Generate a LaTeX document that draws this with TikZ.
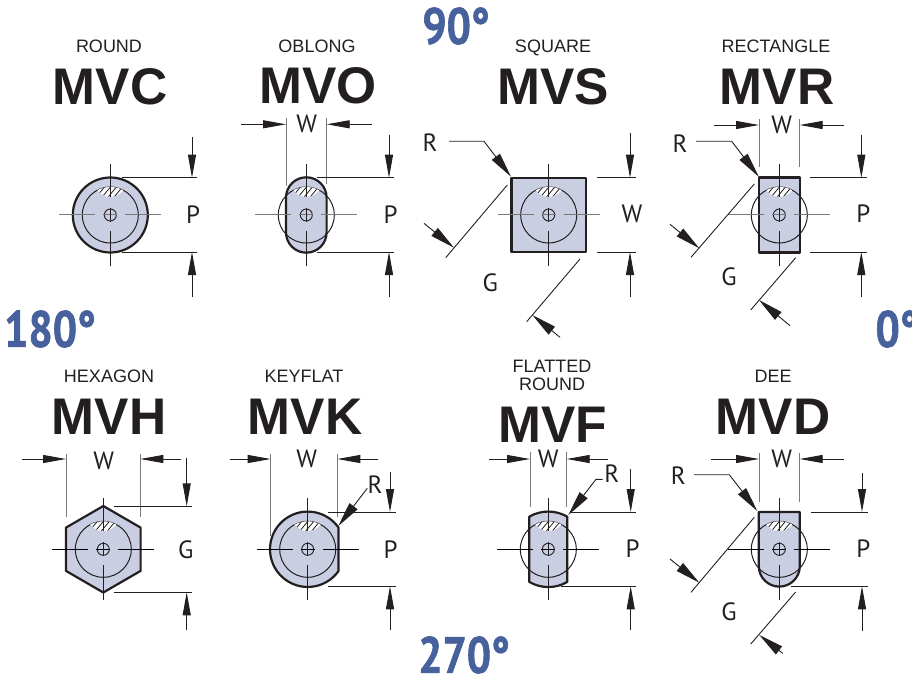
\documentclass[tikz,border=0pt]{standalone}
\usepackage{fontspec}
\setmainfont{Liberation Sans}
\newfontfamily\dimfont{PT Sans}
\newfontfamily\anglefont[FakeStretch=0.84,BoldFeatures={FakeBold=1.2}]{PT Sans}
\usetikzlibrary{arrows.meta, calc}
\definecolor{my-fill}{HTML}{C9CEE3}
\definecolor{my-blue}{HTML}{47619C}
\definecolor{my-gray}{HTML}{7A7A7A}
\definecolor{my-ink}{HTML}{231F20}
\tikzset{
    my-kind/.style={
        font=\fontsize{18}{18}\selectfont, text=my-ink, align=center, inner sep=0pt
    },
    my-title/.style={
        font=\fontsize{51.5}{51.5}\selectfont\bfseries, text=my-ink, inner sep=0pt
    },
    my-dim/.style={
        font=\fontsize{25}{25}\dimfont, text=my-ink, inner sep=0pt
    },
    my-angle/.style={
        font=\fontsize{51}{51}\anglefont\bfseries, text=my-blue, inner sep=0pt
    },
    my-body/.style={
        fill=my-fill, draw=my-ink, line width=2.2pt, line join=round
    },
    my-ext/.style={
        draw=my-ink, line width=.9pt
    },
    my-ext-gray/.style={
        draw=my-gray, line width=1pt
    },
    my-arrow/.style={
        draw=my-ink, line width=.9pt, -{Triangle[length=23pt,width=8pt]}
    },
    my-slant/.style={
        draw=my-ink, line width=.9pt, -{Triangle[length=25pt,width=10pt]}
    },
    my-hub/.pic={
        \draw[my-ink, line width=1pt] (0,0) circle[radius=28pt];
        \begin{scope}
            \path[clip] (-13,-24.8) arc[start angle=117.7, end angle=62.3, radius=28pt]
                .. controls (6,-16) and (-6,-16) .. cycle;
            \fill[white] (-14,-28) rectangle (14,-16);
            \draw[my-ink, line width=.8pt] (-15,-17) -- (-5,-29);
            \draw[my-ink, line width=.8pt] (-9,-17)  -- (1,-29);
            \draw[my-ink, line width=.8pt] (-3,-17)  -- (7,-29);
            \draw[my-ink, line width=.8pt] (3,-17)   -- (13,-29);
            \draw[my-ink, line width=.8pt] (9,-17)   -- (19,-29);
        \end{scope}
        \draw[my-ink, line width=.9pt] (0,0) circle[radius=6pt];
        \draw[line width=1pt] (-51,0) -- (-15,0);
        \draw[line width=1pt] (-7,0)  -- (7,0);
        \draw[line width=1pt] (15,0)  -- (51,0);
        \draw[my-ink, line width=1pt] (0,-51) -- (0,-18);
        \draw[my-ink, line width=1pt] (0,-7)  -- (0,7);
        \draw[my-ink, line width=1pt] (0,16)  -- (0,51);
    },
}

\begin{document}
\begin{tikzpicture}[x=1pt, y=-1pt]

        \useasboundingbox (0,0) rectangle (912,676);

        % ANGLES
        \node[my-angle] (A90)  at (456,26)  {90°};
        \node[my-angle] (A180) at (50,329)  {180°};
        \node[my-angle] (A0)   at (897,329) {0°};
        \node[my-angle] (A270) at (464,655) {270°};

        % MVC
        \coordinate (MVC) at (110.3,215);
        \node[my-kind]  (MVCKIND)  at (109,46)  {ROUND};
        \node[my-title] (MVCTITLE) at (110,87)  {MVC};
        \draw[my-body] (MVC) circle[radius=37.5pt];
        \pic[color=my-gray] at (MVC) {my-hub};
        \coordinate (MVCPTOP) at (192,177.7);
        \coordinate (MVCPBOT) at (192,252);
        \draw[my-ext] ($(MVCPTOP)+(-70,0)$) -- ($(MVCPTOP)+(5,0)$);
        \draw[my-ext] ($(MVCPBOT)+(-70,0)$) -- ($(MVCPBOT)+(5,0)$);
        \draw[my-arrow] ($(MVCPTOP)+(0,-41)$) -- (MVCPTOP);
        \draw[my-arrow] ($(MVCPBOT)+(0,45)$)  -- (MVCPBOT);
        \node[my-dim] (MVCP) at (193,215) {P};

        % MVO
        \coordinate (MVO) at (306.3,215);
        \node[my-kind]  (MVOKIND)  at (317,46) {OBLONG};
        \node[my-title] (MVOTITLE) at (318,86) {MVO};
        \draw[my-body] ($(MVO)+(-20.3,-17.4)$) arc[start angle=180, end angle=0, radius=20.3pt]
            -- ++(0,34.8) arc[start angle=0, end angle=-180, radius=20.3pt] -- cycle;
        \pic[color=my-gray] at (MVO) {my-hub};
        \coordinate (MVOWL) at (286,124.3);
        \coordinate (MVOWR) at (326.7,124.3);
        \draw[my-ext-gray] ($(MVOWL)+(0,-6)$) -- ($(MVOWL)+(0,62)$);
        \draw[my-ext-gray] ($(MVOWR)+(0,-6)$) -- ($(MVOWR)+(0,60)$);
        \draw[my-arrow] ($(MVOWL)+(-45,0)$) -- (MVOWL);
        \draw[my-arrow] ($(MVOWR)+(45,0)$)  -- (MVOWR);
        \node[my-dim] (MVOW) at (306.7,124) {W};
        \coordinate (MVOPTOP) at (389,177.7);
        \coordinate (MVOPBOT) at (389,252);
        \draw[my-ext] ($(MVOPTOP)+(-72,0)$) -- ($(MVOPTOP)+(5,0)$);
        \draw[my-ext] ($(MVOPBOT)+(-72,0)$) -- ($(MVOPBOT)+(5,0)$);
        \draw[my-arrow] ($(MVOPTOP)+(0,-43)$) -- (MVOPTOP);
        \draw[my-arrow] ($(MVOPBOT)+(0,45)$)  -- (MVOPBOT);
        \node[my-dim] (MVOP) at (390.7,215) {P};

        % MVS
        \coordinate (MVS) at (548.7,215);
        \node[my-kind]  (MVSKIND)  at (553,47.5) {SQUARE};
        \node[my-title] (MVSTITLE) at (553,87) {MVS};
        \draw[my-body] ($(MVS)+(-37.3,-37.3)$) rectangle ($(MVS)+(37.3,37.3)$);
        \pic[color=my-gray] at (MVS) {my-hub};
        \coordinate (MVSWTOP) at (630,177.7);
        \coordinate (MVSWBOT) at (630,252);
        \draw[my-ext] ($(MVSWTOP)+(-33,0)$) -- ($(MVSWTOP)+(6,0)$);
        \draw[my-ext] ($(MVSWBOT)+(-33,0)$) -- ($(MVSWBOT)+(6,0)$);
        \draw[my-arrow] ($(MVSWTOP)+(0,-45)$) -- (MVSWTOP);
        \draw[my-arrow] ($(MVSWBOT)+(0,45)$)  -- (MVSWBOT);
        \node[my-dim] (MVSW) at (632,214) {W};
        \node[my-dim] (MVSR) at (430,143) {R};
        \coordinate (MVSCORNER) at (511,176.7);
        \draw[my-slant] (449,141.3) -- (484,141.3) -- (MVSCORNER);
        \coordinate (MVSGA) at (454,247.7);
        \coordinate (MVSGB) at (532.3,315);
        \draw[my-ext] (507.3,185) -- (445.7,257.7);
        \draw[my-ext] (580,259)   -- (526.7,321.7);
        \draw[my-slant] (424,223.3) -- (MVSGA);
        \draw[my-slant] (560,337.3) -- (MVSGB);
        \node[my-dim] (MVSG) at (490.3,282.7) {G};

        % MVR
        \coordinate (MVR) at (779.3,215);
        \node[my-kind]  (MVRKIND)  at (776,46) {RECTANGLE};
        \node[my-title] (MVRTITLE) at (777,87) {MVR};
        \draw[my-body] ($(MVR)+(-20.6,-37.4)$) rectangle ($(MVR)+(20.6,37.4)$);
        \pic[color=my-gray] at (MVR) {my-hub};
        \coordinate (MVRWL) at (759,125);
        \coordinate (MVRWR) at (799.7,125);
        \draw[my-ext-gray] ($(MVRWL)+(0,-6)$) -- ($(MVRWL)+(0,42)$);
        \draw[my-ext-gray] ($(MVRWR)+(0,-6)$) -- ($(MVRWR)+(0,42)$);
        \draw[my-arrow] ($(MVRWL)+(-45,0)$) -- (MVRWL);
        \draw[my-arrow] ($(MVRWR)+(44,0)$)  -- (MVRWR);
        \node[my-dim] (MVRW) at (781.7,125) {W};
        \coordinate (MVRPTOP) at (861.3,177.7);
        \coordinate (MVRPBOT) at (861.3,252);
        \draw[my-ext] ($(MVRPTOP)+(-51,0)$) -- ($(MVRPTOP)+(6,0)$);
        \draw[my-ext] ($(MVRPBOT)+(-51,0)$) -- ($(MVRPBOT)+(6,0)$);
        \draw[my-arrow] ($(MVRPTOP)+(0,-43)$) -- (MVRPTOP);
        \draw[my-arrow] ($(MVRPBOT)+(0,45)$)  -- (MVRPBOT);
        \node[my-dim] (MVRP) at (863.3,214) {P};
        \node[my-dim] (MVRR) at (680,143.3) {R};
        \coordinate (MVRCORNER) at (758.7,176.7);
        \draw[my-slant] (696,141.3) -- (731.7,141.3) -- (MVRCORNER);
        \coordinate (MVRGA) at (699.3,248.3);
        \coordinate (MVRGB) at (759,300);
        \draw[my-ext] (754.3,184)   -- (691,257.3);
        \draw[my-ext] (795.7,257.7) -- (750.7,310);
        \draw[my-slant] (670,224.3)  -- (MVRGA);
        \draw[my-slant] (790,325.7)  -- (MVRGB);
        \node[my-dim] (MVRG) at (729,276.7) {G};

        % MVH
        \coordinate (MVH) at (103.3,549.3);
        \node[my-kind]  (MVHKIND)  at (109,376) {HEXAGON};
        \node[my-title] (MVHTITLE) at (109,417) {MVH};
        \draw[my-body] ($(MVH)+(0,-43.3)$) -- ++(37.3,21.6) -- ++(0,43.3) -- ++(-37.3,21.6)
            -- ++(-37.3,-21.6) -- ++(0,-43.3) -- cycle;
        \pic at (MVH) {my-hub};
        \coordinate (MVHWL) at (66,459);
        \coordinate (MVHWR) at (140.3,459);
        \draw[my-ext-gray] ($(MVHWL)+(0,-5)$) -- ($(MVHWL)+(0,58)$);
        \draw[my-ext-gray] ($(MVHWR)+(0,-5)$) -- ($(MVHWR)+(0,58)$);
        \draw[my-arrow] ($(MVHWL)+(-44,0)$) -- (MVHWL);
        \draw[my-arrow] ($(MVHWR)+(41,0)$)  -- (MVHWR);
        \node[my-dim] (MVHW) at (103.7,460.7) {W};
        \coordinate (MVHGTOP) at (186.7,506.3);
        \coordinate (MVHGBOT) at (186.7,592.3);
        \draw[my-ext] ($(MVHGTOP)+(-73,0)$) -- ($(MVHGTOP)+(5,0)$);
        \draw[my-ext] ($(MVHGBOT)+(-73,0)$) -- ($(MVHGBOT)+(5,0)$);
        \draw[my-arrow] ($(MVHGTOP)+(0,-48)$) -- (MVHGTOP);
        \draw[my-arrow] ($(MVHGBOT)+(0,38)$)  -- (MVHGBOT);
        \node[my-dim] (MVHG) at (185.7,550) {G};

        % MVK
        \coordinate (MVK) at (307.7,549.3);
        \node[my-kind]  (MVKKIND)  at (304,376) {KEYFLAT};
        \node[my-title] (MVKTITLE) at (305,417) {MVK};
        \draw[my-body] ($(MVK)+(30.7,-21.9)$) arc[start angle=35.5, end angle=324.5, radius=37.7pt] -- cycle;
        \pic at (MVK) {my-hub};
        \coordinate (MVKWL) at (270.7,459);
        \coordinate (MVKWR) at (337.3,459);
        \draw[my-ext-gray] ($(MVKWL)+(0,-5)$) -- ($(MVKWL)+(0,77)$);
        \draw[my-ext-gray] ($(MVKWR)+(0,-5)$) -- ($(MVKWR)+(0,58)$);
        \draw[my-arrow] ($(MVKWL)+(-41,0)$) -- (MVKWL);
        \draw[my-arrow] ($(MVKWR)+(41,0)$)  -- (MVKWR);
        \node[my-dim] (MVKW) at (306.7,459) {W};
        \coordinate (MVKPTOP) at (390,512);
        \coordinate (MVKPBOT) at (390,586.3);
        \draw[my-ext] ($(MVKPTOP)+(-62,0)$) -- ($(MVKPTOP)+(6,0)$);
        \draw[my-ext] ($(MVKPBOT)+(-62,0)$) -- ($(MVKPBOT)+(6,0)$);
        \draw[my-arrow] ($(MVKPTOP)+(0,-40)$) -- (MVKPTOP);
        \draw[my-arrow] ($(MVKPBOT)+(0,44)$)  -- (MVKPBOT);
        \node[my-dim] (MVKP) at (390.7,550) {P};
        \node[my-dim] (MVKR) at (375,485) {R};
        \coordinate (MVKCORNER) at (338.3,526);
        \draw[my-slant] (367.3,488.3) -- (MVKCORNER);

        % MVF
        \coordinate (MVF) at (548.3,549.3);
        \node[my-kind]  (MVFKIND)  at (552,375) {FLATTED\\ROUND};
        \node[my-title] (MVFTITLE) at (553,425) {MVF};
        \draw[my-body] ($(MVF)+(19,-32.6)$) arc[start angle=59.7, end angle=120.3, radius=37.7pt]
            -- ++(0,65.2) arc[start angle=239.7, end angle=300.3, radius=37.7pt] -- cycle;
        \pic at (MVF) {my-hub};
        \coordinate (MVFWL) at (530,459);
        \coordinate (MVFWR) at (566.7,459);
        \draw[my-ext-gray] ($(MVFWL)+(0,-7)$) -- ($(MVFWL)+(0,48)$);
        \draw[my-ext-gray] ($(MVFWR)+(0,-7)$) -- ($(MVFWR)+(0,48)$);
        \draw[my-arrow] ($(MVFWL)+(-41,0)$) -- (MVFWL);
        \draw[my-arrow] ($(MVFWR)+(41,0)$)  -- (MVFWR);
        \node[my-dim] (MVFW) at (548.3,459) {W};
        \coordinate (MVFPTOP) at (630.7,512);
        \coordinate (MVFPBOT) at (630.7,586.3);
        \draw[my-ext] ($(MVFPTOP)+(-60,0)$) -- ($(MVFPTOP)+(5,0)$);
        \draw[my-ext] ($(MVFPBOT)+(-70,0)$) -- ($(MVFPBOT)+(5,0)$);
        \draw[my-arrow] ($(MVFPTOP)+(0,-43)$) -- (MVFPTOP);
        \draw[my-arrow] ($(MVFPBOT)+(0,44)$)  -- (MVFPBOT);
        \node[my-dim] (MVFP) at (632.7,548.3) {P};
        \node[my-dim] (MVFR) at (611.7,473.3) {R};
        \coordinate (MVFCORNER) at (568.3,515);
        \draw[my-slant] (602.7,479.3) -- (596,479.3) -- (MVFCORNER);

        % MVD
        \coordinate (MVD) at (779.3,549.3);
        \node[my-kind]  (MVDKIND)  at (773,376) {DEE};
        \node[my-title] (MVDTITLE) at (773,417) {MVD};
        \draw[my-body] ($(MVD)+(-20.5,-37.3)$) -- ++(41,0) -- ++(0,54.1)
            arc[start angle=0, end angle=-180, radius=20.5pt] -- cycle;
        \pic at (MVD) {my-hub};
        \coordinate (MVDWL) at (759,459);
        \coordinate (MVDWR) at (799.7,459);
        \draw[my-ext-gray] ($(MVDWL)+(0,-6)$) -- ($(MVDWL)+(0,43)$);
        \draw[my-ext-gray] ($(MVDWR)+(0,-6)$) -- ($(MVDWR)+(0,43)$);
        \draw[my-arrow] ($(MVDWL)+(-48,0)$) -- (MVDWL);
        \draw[my-arrow] ($(MVDWR)+(44,0)$)  -- (MVDWR);
        \node[my-dim] (MVDW) at (781.7,459) {W};
        \coordinate (MVDPTOP) at (862,512);
        \coordinate (MVDPBOT) at (862,586.3);
        \draw[my-ext] ($(MVDPTOP)+(-51,0)$) -- ($(MVDPTOP)+(6,0)$);
        \draw[my-ext] ($(MVDPBOT)+(-71,0)$) -- ($(MVDPBOT)+(6,0)$);
        \draw[my-arrow] ($(MVDPTOP)+(0,-39)$) -- (MVDPTOP);
        \draw[my-arrow] ($(MVDPBOT)+(0,45)$)  -- (MVDPBOT);
        \node[my-dim] (MVDP) at (863.3,548.3) {P};
        \node[my-dim] (MVDR) at (678.3,476) {R};
        \coordinate (MVDCORNER) at (757.3,511);
        \draw[my-slant] (694,474.7) -- (729.3,474.7) -- (MVDCORNER);
        \coordinate (MVDGA) at (699.3,582.7);
        \coordinate (MVDGB) at (759.3,635);
        \draw[my-ext] (754.3,517.3) -- (691,592.3);
        \draw[my-ext] (795.7,592)   -- (750.7,644);
        \draw[my-slant] (670,559)     -- (MVDGA);
        \draw[my-slant] (782.7,653.3) -- (MVDGB);
        \node[my-dim] (MVDG) at (729,611.7) {G};

\end{tikzpicture}
\end{document}
